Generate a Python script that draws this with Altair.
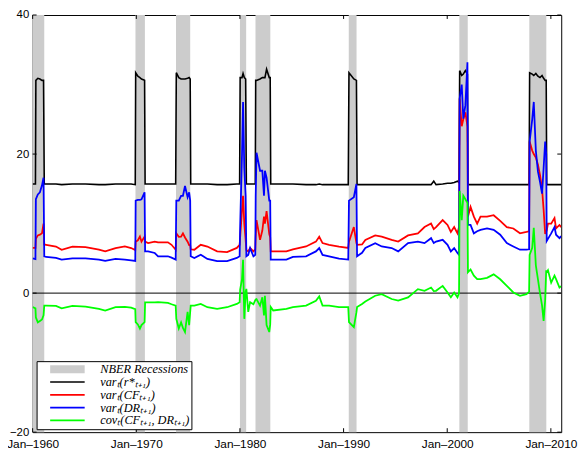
import altair as alt
import pandas as pd

# ---- data ----
dates = [1960.00, 1960.27, 1960.31, 1960.50, 1960.70, 1960.90, 1961.05, 1961.12, 1961.30, 1962.25,
         1962.80, 1963.84, 1965.10, 1966.40, 1967.00, 1968.00, 1968.90, 1969.50, 1969.90, 1969.94,
         1970.15, 1970.35, 1970.50, 1970.80, 1970.85, 1971.14, 1971.78, 1972.10, 1973.05, 1973.40,
         1973.80, 1973.86, 1974.10, 1974.32, 1974.50, 1974.70, 1974.95, 1975.10, 1975.20, 1975.25,
         1975.60, 1976.22, 1976.86, 1977.80, 1978.76, 1979.70, 1979.97, 1980.02, 1980.20, 1980.30,
         1980.42, 1980.55, 1980.62, 1980.80, 1980.98, 1981.30, 1981.48, 1981.52, 1981.60, 1981.94,
         1982.16, 1982.32, 1982.41, 1982.57, 1982.83, 1982.92, 1982.97, 1983.21, 1984.48, 1985.11,
         1986.38, 1987.33, 1987.65, 1987.97, 1988.60, 1989.56, 1990.45, 1990.52, 1990.99, 1991.24,
         1991.30, 1991.78, 1992.10, 1993.05, 1993.68, 1994.64, 1995.27, 1996.22, 1997.17, 1997.81,
         1998.44, 1998.70, 1998.92, 1999.56, 2000.03, 2000.35, 2000.67, 2000.99, 2001.14, 2001.20,
         2001.40, 2001.55, 2001.75, 2001.95, 2002.00, 2002.25, 2002.57, 2002.89, 2003.21, 2003.84,
         2004.48, 2005.11, 2005.75, 2006.38, 2007.02, 2007.65, 2007.90, 2007.95, 2008.20, 2008.35,
         2008.55, 2008.75, 2008.95, 2009.15, 2009.30, 2009.45, 2009.55, 2009.60, 2009.72, 2010.03,
         2010.35, 2010.50, 2010.83, 2011.00]

var_r = [15.7, 15.7, 30.6, 30.9, 30.8, 30.6, 30.6, 15.7, 15.7, 15.7,
         15.6, 15.7, 15.7, 15.6, 15.6, 15.7, 15.7, 15.7, 15.6, 31.7,
         31.2, 31.0, 30.8, 30.6, 15.7, 15.7, 15.7, 15.7, 15.7, 15.7,
         15.7, 31.7, 31.0, 30.8, 30.8, 30.8, 30.9, 31.0, 30.8, 15.7,
         15.7, 15.7, 15.7, 15.6, 15.6, 15.7, 15.7, 31.0, 31.0, 31.6,
         31.0, 30.8, 15.7, 15.7, 15.7, 15.7, 15.7, 30.6, 30.6, 30.8,
         31.0, 31.0, 31.0, 32.2, 31.0, 31.0, 15.7, 15.7, 15.7, 15.7,
         15.6, 15.6, 15.7, 15.6, 15.6, 15.6, 15.6, 31.7, 30.8, 30.6,
         15.6, 15.6, 15.6, 15.6, 15.6, 15.6, 15.6, 15.6, 15.6, 15.6,
         15.6, 16.1, 15.6, 15.7, 15.8, 15.8, 15.9, 16.1, 15.9, 32.0,
         31.3, 31.5, 32.0, 31.5, 15.6, 15.6, 15.6, 15.6, 15.6, 15.6,
         15.6, 15.6, 15.6, 15.6, 15.6, 15.6, 15.6, 31.7, 31.5, 31.3,
         31.6, 31.2, 31.0, 31.3, 30.9, 30.6, 30.6, 15.6, 15.6, 15.6,
         15.6, 15.6, 15.6, 15.6]

var_cf = [6.5, 6.5, 7.8, 8.3, 8.4, 8.6, 10.0, 7.0, 6.95, 6.7,
          6.24, 6.7, 6.6, 6.24, 6.0, 6.48, 6.71, 6.48, 6.2, 7.4,
          7.6, 8.13, 7.4, 8.13, 7.4, 7.2, 7.4, 7.3, 7.3, 6.95,
          6.24, 8.6, 8.1, 8.13, 8.6, 8.0, 7.4, 6.9, 6.9, 6.3,
          6.24, 6.95, 6.7, 6.0, 5.9, 6.5, 6.95, 8.0, 12.0, 14.0,
          10.0, 7.66, 6.2, 6.0, 6.5, 6.0, 6.3, 8.0, 10.5, 7.66,
          9.0, 11.0, 10.0, 11.8, 8.5, 8.0, 6.0, 6.0, 6.0, 6.3,
          6.71, 7.4, 8.1, 7.2, 6.95, 6.7, 6.5, 7.4, 9.5, 7.19,
          6.95, 7.0, 7.66, 8.3, 8.13, 7.66, 7.42, 8.3, 8.6, 9.5,
          10.0, 9.2, 9.5, 10.5, 9.8, 8.8, 9.5, 8.6, 9.5, 28.0,
          24.0, 25.0, 26.0, 24.0, 11.0, 12.4, 11.0, 10.0, 11.0, 11.0,
          11.2, 10.4, 9.5, 9.3, 8.6, 8.8, 8.9, 21.8, 20.5, 20.0,
          19.5, 18.5, 17.0, 15.0, 12.0, 8.5, 9.0, 9.0, 10.0, 10.0,
          10.8, 9.3, 9.8, 9.5]

var_dr = [5.0, 4.9, 13.5, 14.2, 14.5, 15.5, 16.6, 5.3, 5.2, 5.06,
          4.82, 5.0, 5.0, 4.82, 4.63, 4.92, 4.82, 4.7, 4.63, 13.3,
          13.4, 13.4, 13.5, 14.5, 6.0, 6.0, 5.77, 5.3, 5.3, 5.1,
          4.82, 13.3, 13.3, 14.0, 14.0, 15.4, 13.8, 14.5, 13.3, 5.3,
          5.06, 5.53, 4.92, 4.59, 4.59, 5.06, 5.3, 9.5, 20.0, 27.5,
          18.0, 14.0, 5.3, 5.5, 6.48, 5.3, 5.5, 14.0, 20.2, 17.6,
          17.6, 14.0, 17.6, 16.6, 13.3, 13.3, 4.82, 4.82, 4.82, 5.2,
          5.3, 6.0, 6.48, 5.5, 5.3, 4.95, 4.82, 13.3, 13.8, 15.7,
          5.3, 5.8, 6.48, 7.19, 6.71, 6.48, 6.0, 7.19, 7.4, 7.19,
          7.9, 7.2, 7.42, 7.66, 6.95, 6.0, 6.48, 5.77, 5.5, 28.0,
          30.0, 25.1, 27.0, 33.2, 9.8, 9.8, 8.6, 8.9, 9.1, 9.3,
          9.1, 8.4, 7.19, 6.71, 6.24, 6.24, 6.3, 21.8, 25.0, 27.5,
          20.5, 17.5, 16.0, 14.3, 18.0, 21.8, 20.0, 7.5, 7.8, 8.6,
          9.5, 8.4, 7.9, 8.2]

cov = [-2.0, -2.2, -3.5, -4.2, -4.0, -3.8, -3.2, -1.8, -1.8, -1.85,
       -2.2, -1.85, -1.95, -2.27, -2.5, -2.03, -1.98, -2.1, -2.3, -4.16,
       -4.5, -5.1, -4.6, -4.16, -1.32, -1.32, -1.32, -1.3, -1.4, -1.6,
       -1.8, -3.7, -5.1, -4.2, -5.0, -5.6, -2.7, -4.6, -2.7, -1.8,
       -1.8, -1.56, -2.03, -2.27, -2.03, -1.56, -1.32, 0.5, 2.0, 4.8,
       -3.7, 0.2, 0.6, -2.7, -1.3, -1.6, -1.0, -0.9, -0.85, -1.8,
       -0.6, -3.2, -0.4, -4.6, -5.6, -4.5, -2.0, -2.5, -2.27, -2.03,
       -1.8, -1.1, -0.47, -1.8, -1.8, -2.03, -2.03, -4.16, -4.9, -2.74,
       -2.0, -1.56, -1.2, -0.38, -0.14, -0.85, -1.09, -0.61, 0.57, 0.33,
       0.8, 0.3, 0.33, 1.04, 0.09, -0.6, 0.09, -0.6, 0.0, 14.7,
       10.5, 14.0, 13.5, 13.0, 3.0, 3.4, 2.5, 2.0, 2.0, 2.2,
       2.7, 1.99, 1.04, 0.09, -0.38, -0.14, 0.2, 5.5, 6.5, 9.4,
       4.0, 2.0, 0.0, -1.8, -4.0, -1.0, 3.3, 3.0, 3.3, 1.5,
       2.5, 2.0, 0.8, 1.0]

rec_start = [1960.0, 1969.92, 1973.83, 1980.0, 1981.5, 1990.5, 2001.17, 2007.92]
rec_end = [1961.12, 1970.83, 1975.2, 1980.6, 1982.93, 1991.25, 2001.98, 2009.56]

x_ticks = [1960, 1970, 1980, 1990, 2000, 2010]
y_ticks = [-20, 0, 20, 40]

labels = ["NBER Recessions", "varₜ(r*ₜ₊₁)", "varₜ(CFₜ₊₁)", "varₜ(DRₜ₊₁)", "covₜ(CFₜ₊₁, DRₜ₊₁)"]
colors = ["#cccccc", "#000000", "#ff0000", "#0000ff", "#00ff00"]
widths = [8, 1.6, 1.8, 1.8, 1.8]

# ---- tables ----
series_vals = [var_r, var_cf, var_dr, cov]
rows = []
for name, vals in zip(labels[1:], series_vals):
    for d, v in zip(dates, vals):
        rows.append({"date": d, "value": v, "series": name})
df = pd.DataFrame(rows)
rec_df = pd.DataFrame({"start": rec_start, "end": rec_end})
xt_df = pd.DataFrame({"t": x_ticks})
yt_df = pd.DataFrame({"t": y_ticks})
zero_df = pd.DataFrame({"v": [0]})

W, H = 536, 423
xscale = alt.Scale(domain=[1960, 2011], nice=False, zero=False)
yscale = alt.Scale(domain=[-20, 40], nice=False, zero=False)

xaxis = alt.Axis(values=x_ticks, labelExpr="'Jan–' + datum.value", title=None, grid=False,
                 domain=False, ticks=False, labelPadding=6.5, labelFontSize=12,
                 labelFont="Liberation Sans", labelColor="black", labelFlush=False)
yaxis = alt.Axis(values=y_ticks, title=None, grid=False, domain=False, ticks=False,
                 labelPadding=4, labelFontSize=11.5, labelFont="Liberation Sans",
                 labelColor="black")

legend = alt.Legend(orient="none", legendX=4, legendY=351, title=None,
                    symbolType="M-1,0H69", symbolSize=1, clipHeight=12.3,
                    labelFont="Liberation Serif", labelFontStyle="italic",
                    labelFontSize=12.5, labelColor="black",
                    strokeColor="black", fillColor="white", padding=2,
                    rowPadding=0, labelOffset=44, symbolOffset=6)

rects = alt.Chart(rec_df).mark_rect(color="#cccccc").encode(
    x=alt.X("start:Q", scale=xscale, axis=xaxis),
    x2="end:Q",
)

lines = alt.Chart(df).mark_line(clip=True).encode(
    x=alt.X("date:Q", scale=xscale, axis=xaxis),
    y=alt.Y("value:Q", scale=yscale, axis=yaxis),
    stroke=alt.Stroke("series:N", scale=alt.Scale(domain=labels, range=colors),
                      sort=labels, legend=legend),
    strokeWidth=alt.StrokeWidth("series:N",
                                scale=alt.Scale(type="ordinal", domain=labels, range=widths),
                                sort=labels, legend=legend),
)

zero = alt.Chart(zero_df).mark_rule(color="black", strokeWidth=1).encode(
    y=alt.Y("v:Q", scale=yscale, axis=yaxis)
)

tb = alt.Chart(xt_df).mark_rule(color="black", strokeWidth=1).encode(
    x=alt.X("t:Q", scale=xscale, axis=xaxis), y=alt.value(H), y2=alt.value(H - 4))
tt = alt.Chart(xt_df).mark_rule(color="black", strokeWidth=1).encode(
    x=alt.X("t:Q", scale=xscale, axis=xaxis), y=alt.value(0), y2=alt.value(4))
tl = alt.Chart(yt_df).mark_rule(color="black", strokeWidth=1).encode(
    y=alt.Y("t:Q", scale=yscale, axis=yaxis), x=alt.value(0), x2=alt.value(4))
tr = alt.Chart(yt_df).mark_rule(color="black", strokeWidth=1).encode(
    y=alt.Y("t:Q", scale=yscale, axis=yaxis), x=alt.value(W), x2=alt.value(W - 4))

chart = alt.layer(rects, zero, lines, tb, tt, tl, tr).properties(
    width=W, height=H,
    autosize=alt.AutoSizeParams(type="none"),
    padding={"left": 25, "top": 4, "right": 17, "bottom": 17},
    background="white",
).configure_view(stroke="black", strokeWidth=1)

chart.save("out.html", embed_options={"renderer": "svg", "actions": False})
